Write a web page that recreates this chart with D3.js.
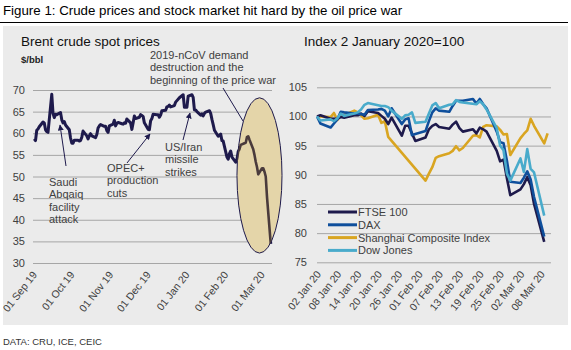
<!DOCTYPE html>
<html>
<head>
<meta charset="utf-8">
<script src="https://cdnjs.cloudflare.com/ajax/libs/d3/7.8.5/d3.min.js"></script>
<style>
  body { margin: 0; background: #fff; }
  svg text { font-family: Arial, "Liberation Sans", sans-serif; }
</style>
</head>
<body>
<div id="chart-area"></div>
<script>
// Brent crude, $/bbl (trading days)
const brentDates = [
  "2019-09-02","2019-09-03","2019-09-04","2019-09-05","2019-09-06","2019-09-09","2019-09-10","2019-09-11","2019-09-12","2019-09-13",
  "2019-09-16","2019-09-17","2019-09-18","2019-09-19","2019-09-20","2019-09-23","2019-09-24","2019-09-25","2019-09-26","2019-09-27",
  "2019-09-30","2019-10-01","2019-10-02","2019-10-03","2019-10-04","2019-10-07","2019-10-08","2019-10-09","2019-10-10","2019-10-11",
  "2019-10-14","2019-10-15","2019-10-16","2019-10-17","2019-10-18","2019-10-21","2019-10-22","2019-10-23","2019-10-24","2019-10-25",
  "2019-10-28","2019-10-29","2019-10-30","2019-10-31","2019-11-01","2019-11-04","2019-11-05","2019-11-06","2019-11-07","2019-11-08",
  "2019-11-11","2019-11-12","2019-11-13","2019-11-14","2019-11-15","2019-11-18","2019-11-19","2019-11-20","2019-11-21","2019-11-22",
  "2019-11-25","2019-11-26","2019-11-27","2019-11-28","2019-11-29","2019-12-02","2019-12-03","2019-12-04","2019-12-05","2019-12-06",
  "2019-12-09","2019-12-10","2019-12-11","2019-12-12","2019-12-13","2019-12-16","2019-12-17","2019-12-18","2019-12-19","2019-12-20",
  "2019-12-23","2019-12-24","2019-12-27","2019-12-30","2019-12-31","2020-01-02","2020-01-03","2020-01-06","2020-01-07","2020-01-08",
  "2020-01-09","2020-01-10","2020-01-13","2020-01-14","2020-01-15","2020-01-16","2020-01-17","2020-01-20","2020-01-21","2020-01-22",
  "2020-01-23","2020-01-24","2020-01-27","2020-01-28","2020-01-29","2020-01-30","2020-01-31","2020-02-03","2020-02-04","2020-02-05",
  "2020-02-06","2020-02-07","2020-02-10","2020-02-11","2020-02-12","2020-02-13","2020-02-14","2020-02-17","2020-02-18","2020-02-19",
  "2020-02-20","2020-02-21","2020-02-24","2020-02-25","2020-02-26","2020-02-27","2020-02-28","2020-03-02","2020-03-03","2020-03-04",
  "2020-03-05","2020-03-06","2020-03-09"
]
const brentPrices = [
  58.7, 58.3, 60.7, 61.0, 61.5, 62.6, 62.4, 60.8, 60.4, 60.2,
  69.0, 64.6, 63.6, 64.4, 64.3, 64.8, 63.1, 62.4, 62.7, 61.9,
  60.8, 58.9, 57.7, 57.7, 58.4, 58.4, 58.2, 58.3, 59.1, 60.5,
  59.4, 58.7, 59.4, 59.9, 59.4, 59.0, 59.7, 61.2, 61.7, 62.0,
  61.6, 61.6, 60.6, 60.2, 61.7, 62.1, 63.0, 61.7, 62.3, 62.5,
  62.2, 62.1, 62.4, 62.3, 63.3, 62.4, 60.9, 62.4, 64.0, 63.4,
  63.7, 64.3, 64.1, 63.9, 62.4, 60.9, 60.8, 62.9, 63.4, 64.4,
  64.3, 64.3, 63.7, 64.2, 65.2, 65.3, 66.1, 66.2, 66.5, 66.1,
  66.4, 67.2, 68.2, 68.9, 66.0, 66.0, 68.6, 68.9, 68.3, 65.4,
  65.4, 65.0, 64.2, 64.5, 64.0, 64.6, 64.9, 65.2, 64.6, 63.2,
  62.0, 60.7, 59.3, 59.5, 59.8, 58.3, 58.2, 54.5, 54.0, 55.3,
  55.9, 54.5, 53.3, 54.0, 55.8, 56.3, 57.3, 57.7, 57.8, 59.1,
  59.3, 58.5, 56.3, 55.0, 53.4, 52.2, 50.5, 51.9, 51.9, 51.1,
  50.0, 45.3, 34.4
]
const brentTicks = [30, 35, 40, 45, 50, 55, 60, 65, 70]
const brentDateTicks = ["2019-09-01","2019-10-01","2019-11-01","2019-12-01","2020-01-01","2020-02-01","2020-03-01"]

// Stock indices, 2 January 2020 = 100 (null = market closed)
const stockDates = [
  "2020-01-02","2020-01-03","2020-01-06","2020-01-07","2020-01-08","2020-01-09","2020-01-10","2020-01-13","2020-01-14","2020-01-15",
  "2020-01-16","2020-01-17","2020-01-20","2020-01-21","2020-01-22","2020-01-23","2020-01-24","2020-01-27","2020-01-28","2020-01-29",
  "2020-01-30","2020-01-31","2020-02-03","2020-02-04","2020-02-05","2020-02-06","2020-02-07","2020-02-10","2020-02-11","2020-02-12",
  "2020-02-13","2020-02-14","2020-02-17","2020-02-18","2020-02-19","2020-02-20","2020-02-21","2020-02-24","2020-02-25","2020-02-26",
  "2020-02-27","2020-02-28","2020-03-02","2020-03-03","2020-03-04","2020-03-05","2020-03-06","2020-03-09","2020-03-10"
]
const ftse = [
  100, 100.2, 99.6, 99.6, 99.6, 99.9, 99.8, 100.2, 100.2, 100.5,
  100.1, 100.9, 100.6, 100.1, 99.6, 98.7, 99.8, 96.7, 98.4, 98.4,
  97.1, 95.8, 96.4, 97.8, 98.4, 98.7, 98.2, 97.9, 98.6, 99.1,
  98.0, 97.4, 97.8, 97.1, 98.1, 97.8, 97.4, 94.1, 92.3, 92.6,
  89.4, 86.5, 87.5, 88.4, 89.6, 88.2, 85.0, 78.5, null
]
const dax = [
  100, 98.8, 98.1, 98.8, 99.5, 100.8, 100.7, 100.5, 100.5, 100.4,
  100.3, 101.1, 101.2, 101.3, 101.0, 100.0, 101.4, 98.7, 99.5, 99.7,
  96.8, 97.0, 97.5, 99.2, 100.7, 101.4, 101.0, 100.8, 101.8, 102.7,
  102.7, 102.7, 103.0, 102.2, 103.0, 102.1, 101.4, 97.4, 95.6, 95.4,
  92.4, 88.8, 88.6, 89.5, 90.6, 89.2, 86.2, 79.4, null
]
const shanghai = [
  100, 100.0, 99.9, 100.6, 99.4, 100.3, 100.2, 101.0, 100.7, 100.2,
  99.6, 99.7, 100.3, 98.9, 99.2, 96.5, null, null, null, null,
  null, null, 89.0, 90.2, 91.3, 92.9, 93.2, 93.7, 94.1, 94.9,
  94.2, 94.6, 96.7, 96.8, 96.4, 98.2, 98.5, 98.3, 97.7, 96.9,
  97.0, 93.4, 96.3, 97.0, 97.6, 99.6, 98.4, 95.4, 97.1
]
const dowJones = [
  100, 99.3, 99.5, 99.2, 99.7, 100.5, 100.1, 100.5, 100.7, 101.2,
  102.0, 102.3, null, 101.8, 101.8, 101.6, 101.0, 99.6, 100.2, 100.3,
  100.7, 98.9, 99.1, 100.5, 101.9, 102.3, 101.4, 102.0, 102.1, 102.8,
  102.5, 102.4, null, 102.1, 102.6, 102.1, 101.2, 98.0, 95.0, 94.2,
  90.2, 89.0, 92.8, 90.5, 94.4, 91.0, 90.4, 83.0, null
]
const stockTicks = [75, 80, 85, 90, 95, 100, 105]
const stockDateTicks = ["2020-01-02","2020-01-08","2020-01-14","2020-01-20","2020-01-26","2020-02-01",
  "2020-02-07","2020-02-13","2020-02-19","2020-02-25","2020-03-02","2020-03-08"]

const seriesNames = ["FTSE 100", "DAX", "Shanghai Composite Index", "Dow Jones"]
const seriesColors = ["#1e1a4c", "#0f4f9c", "#d9a521", "#49abcb"]

const parseDate = d3.timeParse("%Y-%m-%d")
const fmt = d3.timeFormat("%d %b %y")

const svg = d3.select("#chart-area").append("svg")
  .attr("width", 571)
  .attr("height", 350)

// Figure title and rule
svg.append("text")
  .attr("x", 3)
  .attr("y", 15)
  .attr("font-size", "13.3px")
  .attr("fill", "#000")
  .text("Figure 1: Crude prices and stock market hit hard by the oil price war")

svg.append("line")
  .attr("x1", 0).attr("x2", 568)
  .attr("y1", 22.5).attr("y2", 22.5)
  .attr("stroke", "#000")
  .attr("stroke-width", 1)

svg.append("rect")
  .attr("x", 3).attr("y", 26)
  .attr("width", 565).attr("height", 299)
  .attr("fill", "#ebebeb")

svg.append("text")
  .attr("x", 3)
  .attr("y", 345)
  .attr("font-size", "9.5px")
  .attr("fill", "#333")
  .text("DATA: CRU, ICE, CEIC")

function styleYAxis(g) {
  g.select(".domain").remove()
  g.selectAll("line").attr("stroke", "#a6a6a6")
  g.selectAll("text").attr("fill", "#404040").attr("font-size", "11px")
    .attr("font-family", "Arial, 'Liberation Sans', sans-serif")
}

function styleXAxis(g) {
  g.select(".domain").remove()
  g.selectAll("text")
    .attr("x", 0).attr("y", 0).attr("dy", 0)
    .attr("text-anchor", "end")
    .attr("transform", "translate(4,12) rotate(-52)")
    .attr("fill", "#404040")
    .attr("font-size", "10.5px")
    .attr("font-family", "Arial, 'Liberation Sans', sans-serif")
}

/* ---------- Left panel: Brent ---------- */
const brent = brentDates.map((d, i) => ({ date: parseDate(d), value: brentPrices[i] }))

const xL = d3.scaleTime()
  .domain([parseDate("2019-09-01"), parseDate("2020-03-10")])
  .range([33, 272])
const yL = d3.scaleLinear()
  .domain([30, 70])
  .range([263, 90])

svg.append("text")
  .attr("x", 21).attr("y", 46)
  .attr("font-size", "13.5px")
  .attr("fill", "#111")
  .text("Brent crude spot prices")

svg.append("text")
  .attr("x", 21).attr("y", 63)
  .attr("font-size", "9.5px")
  .attr("font-weight", "bold")
  .attr("fill", "#222")
  .text("$/bbl")

// Y Axis
svg.append("g")
  .attr("transform", `translate(${xL.range()[0]}, 0)`)
  .call(d3.axisLeft(yL).tickValues(brentTicks).tickSize(-(xL.range()[1] - xL.range()[0])).tickPadding(8))
  .call(styleYAxis)

// X Axis
svg.append("g")
  .attr("transform", `translate(0, ${yL(30)})`)
  .call(d3.axisBottom(xL).tickValues(brentDateTicks.map(parseDate)).tickSize(0).tickFormat(fmt))
  .call(styleXAxis)

const brentLine = d3.line()
  .x(d => xL(d.date))
  .y(d => yL(d.value))

svg.append("path")
  .datum(brent)
  .attr("fill", "none")
  .attr("stroke", "#1e1a4c")
  .attr("stroke-width", 3)
  .attr("stroke-linejoin", "round")
  .attr("d", brentLine)

// highlight ellipse over the price war period
const hl = { from: parseDate("2020-02-11"), to: parseDate("2020-03-18"), low: 32.3, high: 68.2 }
const ecx = (xL(hl.from) + xL(hl.to)) / 2
const ecy = (yL(hl.low) + yL(hl.high)) / 2
const erx = (xL(hl.to) - xL(hl.from)) / 2
const ery = (yL(hl.low) - yL(hl.high)) / 2

svg.append("clipPath").attr("id", "ellipse-clip")
  .append("ellipse")
  .attr("cx", ecx).attr("cy", ecy).attr("rx", erx).attr("ry", ery)

svg.append("ellipse")
  .attr("cx", ecx).attr("cy", ecy).attr("rx", erx).attr("ry", ery)
  .attr("fill", "#e4d5a9")
  .attr("stroke", "#1e1a4c")
  .attr("stroke-width", 1)

svg.append("path")
  .datum(brent)
  .attr("clip-path", "url(#ellipse-clip)")
  .attr("fill", "none")
  .attr("stroke", "#4a3b3c")
  .attr("stroke-width", 2.6)
  .attr("stroke-linejoin", "round")
  .attr("d", brentLine)

// Annotations
svg.append("defs").append("marker")
  .attr("id", "arrow")
  .attr("viewBox", "0 0 10 10")
  .attr("refX", 9).attr("refY", 5)
  .attr("markerWidth", 6).attr("markerHeight", 6)
  .attr("orient", "auto")
  .append("path")
  .attr("d", "M0,0 L10,5 L0,10 z")
  .attr("fill", "#1e1a4c")

const notes = [
  { lines: ["Saudi", "Abqaiq", "facility", "attack"], tx: 49, ty: 186, from: [66, 166], to: [60, 125], arrow: true },
  { lines: ["OPEC+", "production", "cuts"], tx: 107, ty: 172, from: [127, 163], to: [150, 134], arrow: true },
  { lines: ["US/Iran", "missile", "strikes"], tx: 165, ty: 151, from: [183, 140], to: [190, 113], arrow: true },
  { lines: ["2019-nCoV demand", "destruction and the", "beginning of the price war"], tx: 150, ty: 59, from: [223, 88], to: [243, 121], arrow: false }
]

notes.forEach(n => {
  svg.append("line")
    .attr("x1", n.from[0]).attr("y1", n.from[1])
    .attr("x2", n.to[0]).attr("y2", n.to[1])
    .attr("stroke", "#1e1a4c")
    .attr("stroke-width", 1)
    .attr("marker-end", n.arrow ? "url(#arrow)" : null)
  svg.append("text")
    .attr("x", n.tx).attr("y", n.ty)
    .attr("font-size", "11px")
    .attr("fill", "#404040")
    .selectAll("tspan")
    .data(n.lines)
    .enter().append("tspan")
    .attr("x", n.tx)
    .attr("dy", (d, i) => i === 0 ? 0 : 12.3)
    .text(d => d)
})

/* ---------- Right panel: stock indices ---------- */
const xR = d3.scaleTime()
  .domain([parseDate("2020-01-02"), parseDate("2020-03-11")])
  .range([317, 551])
const yR = d3.scaleLinear()
  .domain([75, 105])
  .range([262.3, 87.3])

svg.append("text")
  .attr("x", 304).attr("y", 46)
  .attr("font-size", "13.5px")
  .attr("fill", "#111")
  .text("Index 2 January 2020=100")

svg.append("g")
  .attr("transform", `translate(${xR.range()[0]}, 0)`)
  .call(d3.axisLeft(yR).tickValues(stockTicks).tickSize(-(xR.range()[1] - xR.range()[0])).tickPadding(10))
  .call(styleYAxis)

svg.append("g")
  .attr("transform", `translate(0, ${yR(75)})`)
  .call(d3.axisBottom(xR).tickValues(stockDateTicks.map(parseDate)).tickSize(0).tickFormat(fmt))
  .call(styleXAxis)

const stockSeries = [ftse, dax, shanghai, dowJones].map((vals, i) => ({
  name: seriesNames[i],
  color: seriesColors[i],
  values: stockDates.map((d, j) => ({ date: parseDate(d), value: vals[j] })).filter(d => d.value !== null)
}))

const stockLine = d3.line()
  .x(d => xR(d.date))
  .y(d => yR(d.value))

// draw Shanghai first so the western indices sit on top
const drawOrder = [2, 0, 1, 3]
drawOrder.forEach(i => {
  svg.append("path")
    .datum(stockSeries[i].values)
    .attr("fill", "none")
    .attr("stroke", stockSeries[i].color)
    .attr("stroke-width", 2.6)
    .attr("stroke-linejoin", "round")
    .attr("d", stockLine)
})

// Legend
const legend = svg.append("g")
  .attr("transform", "translate(328, 212)")

stockSeries.forEach((s, i) => {
  const row = legend.append("g").attr("transform", `translate(0, ${i * 12.8})`)
  row.append("line")
    .attr("x1", 0).attr("x2", 29)
    .attr("stroke", s.color)
    .attr("stroke-width", 3)
  row.append("text")
    .attr("x", 30).attr("y", 4)
    .attr("font-size", "11px")
    .attr("fill", "#404040")
    .text(s.name)
})
</script>
</body>
</html>
